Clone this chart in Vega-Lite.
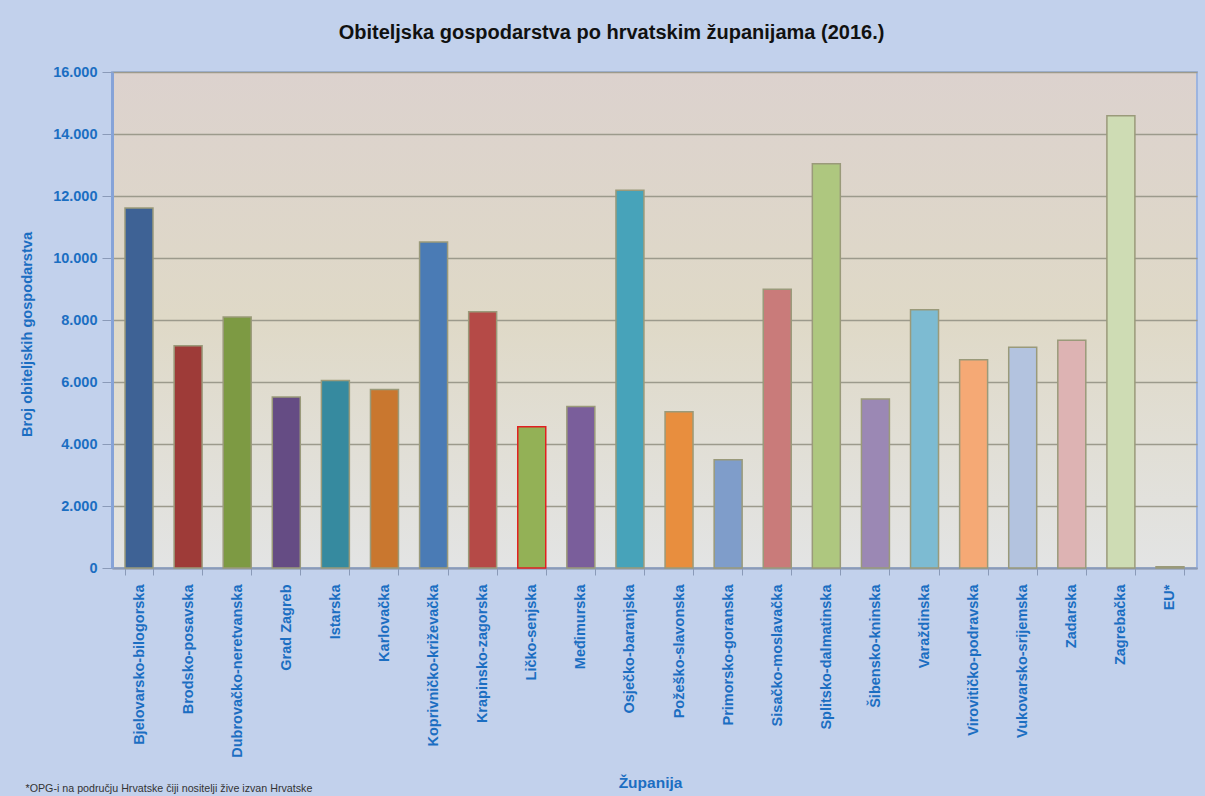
{
  "$schema": "https://vega.github.io/schema/vega-lite/v6.json",
  "width": 1085,
  "height": 496,
  "autosize": {"type": "none"},
  "padding": {"left": 112, "top": 72, "right": 8, "bottom": 228},
  "background": "#c2d1ec",
  "title": {
    "text": "Obiteljska gospodarstva po hrvatskim županijama (2016.)",
    "font": "Liberation Sans",
    "fontSize": 20,
    "fontWeight": "bold",
    "color": "#111111",
    "anchor": "middle",
    "frame": "group",
    "dx": -43,
    "offset": 21
  },
  "config": {
    "locale": {"number": {"decimal": ",", "thousands": ".", "grouping": [3], "currency": ["", ""]}},
    "view": {
      "stroke": "#9db4df",
      "strokeWidth": 2,
      "fill": {
        "gradient": "linear",
        "x1": 0, "y1": 0, "x2": 0, "y2": 1,
        "stops": [
          {"offset": 0, "color": "#dcd2ce"},
          {"offset": 0.5, "color": "#dfd9c7"},
          {"offset": 1, "color": "#e3e4e4"}
        ]
      }
    },
    "axis": {
      "labelFont": "Liberation Sans",
      "titleFont": "Liberation Sans",
      "labelColor": "#1b6ec2",
      "titleColor": "#1b6ec2",
      "labelFontWeight": "bold",
      "titleFontWeight": "bold"
    }
  },
  "data": {
    "values": [
      {"zupanija": "Bjelovarsko-bilogorska", "broj": 11610},
      {"zupanija": "Brodsko-posavska", "broj": 7170},
      {"zupanija": "Dubrovačko-neretvanska", "broj": 8100},
      {"zupanija": "Grad Zagreb", "broj": 5516},
      {"zupanija": "Istarska", "broj": 6045},
      {"zupanija": "Karlovačka", "broj": 5755},
      {"zupanija": "Koprivničko-križevačka", "broj": 10516},
      {"zupanija": "Krapinsko-zagorska", "broj": 8268},
      {"zupanija": "Ličko-senjska", "broj": 4558},
      {"zupanija": "Međimurska", "broj": 5213},
      {"zupanija": "Osječko-baranjska", "broj": 12184},
      {"zupanija": "Požeško-slavonska", "broj": 5042},
      {"zupanija": "Primorsko-goranska", "broj": 3494},
      {"zupanija": "Sisačko-moslavačka", "broj": 8990},
      {"zupanija": "Splitsko-dalmatinska", "broj": 13042},
      {"zupanija": "Šibensko-kninska", "broj": 5452},
      {"zupanija": "Varaždinska", "broj": 8332},
      {"zupanija": "Virovitičko-podravska", "broj": 6719},
      {"zupanija": "Vukovarsko-srijemska", "broj": 7119},
      {"zupanija": "Zadarska", "broj": 7345},
      {"zupanija": "Zagrebačka", "broj": 14590},
      {"zupanija": "EU*", "broj": 40}
    ]
  },
  "layer": [
    {
      "mark": {"type": "bar", "strokeWidth": 1.5},
      "encoding": {
        "x": {
          "field": "zupanija",
          "type": "nominal",
          "sort": null,
          "scale": {"paddingInner": 0.43, "paddingOuter": 0.265},
          "axis": {
            "orient": "bottom",
            "title": "Županija",
            "titleFontSize": 15.5,
            "titleY": 207,
            "titleBaseline": "top",
            "titleX": 538,
            "labelAngle": -90,
            "labelAlign": "right",
            "labelBaseline": "middle",
            "labelFontSize": 14.5,
            "labelLimit": 400,
            "labelPadding": 9,
            "tickBand": "extent",
            "tickSize": 7,
            "tickColor": "#8a9ab8",
            "domainColor": "#8a9ab8",
            "domainWidth": 2,
            "grid": false
          }
        },
        "y": {
          "field": "broj",
          "type": "quantitative",
          "scale": {"domain": [0, 16000], "nice": false},
          "axis": {
            "title": "Broj obiteljskih gospodarstva",
            "titleFontSize": 14.6,
            "titleX": -85,
            "titleY": 262,
            "titleAngle": -90,
            "titleAlign": "center",
            "titleBaseline": "middle",
            "values": [0, 2000, 4000, 6000, 8000, 10000, 12000, 14000, 16000],
            "format": ",.0f",
            "labelFontSize": 14.5,
            "labelPadding": 5,
            "tickSize": 10,
            "tickColor": "#8a9ab8",
            "domainColor": "#86a3d8",
            "domainWidth": 3,
            "gridColor": "#9c9a8c",
            "gridWidth": 1.5
          }
        },
        "color": {
          "field": "zupanija",
          "type": "nominal",
          "legend": null,
          "scale": {
            "domain": ["Bjelovarsko-bilogorska", "Brodsko-posavska", "Dubrovačko-neretvanska", "Grad Zagreb", "Istarska", "Karlovačka", "Koprivničko-križevačka", "Krapinsko-zagorska", "Ličko-senjska", "Međimurska", "Osječko-baranjska", "Požeško-slavonska", "Primorsko-goranska", "Sisačko-moslavačka", "Splitsko-dalmatinska", "Šibensko-kninska", "Varaždinska", "Virovitičko-podravska", "Vukovarsko-srijemska", "Zadarska", "Zagrebačka", "EU*"],
            "range": ["#3e6295", "#9e3b38", "#7d9a43", "#654c84", "#368a9f", "#c9772f", "#4a7bb5", "#b54a47", "#93b156", "#7a5e9b", "#47a3ba", "#e88e3e", "#7f9dca", "#c97b7a", "#aec77f", "#9b88b4", "#7dbbd2", "#f5a975", "#b3c3df", "#ddb3b3", "#cedcb4", "#9a9a8a"]
          }
        },
        "stroke": {
          "condition": {"test": "datum.zupanija === 'Ličko-senjska'", "value": "#e02020"},
          "value": "#9a9a7a"
        }
      }
    },
    {
      "mark": {"type": "bar", "opacity": 0},
      "encoding": {
        "x": {
          "field": "zupanija",
          "type": "nominal",
          "sort": null,
          "axis": {
            "orient": "bottom",
            "title": "*OPG-i na području Hrvatske čiji nositelji žive izvan Hrvatske",
            "titleFont": "Liberation Sans",
            "titleFontWeight": "normal",
            "titleFontSize": 10.7,
            "titleColor": "#333333",
            "titleX": -87,
            "titleY": 223,
            "titleAlign": "left",
            "titleAnchor": "start",
            "titleBaseline": "alphabetic",
            "labels": false,
            "ticks": false,
            "domain": false,
            "grid": false
          }
        },
        "y": {"field": "broj", "type": "quantitative"}
      }
    }
  ],
  "resolve": {"axis": {"x": "independent"}}
}
